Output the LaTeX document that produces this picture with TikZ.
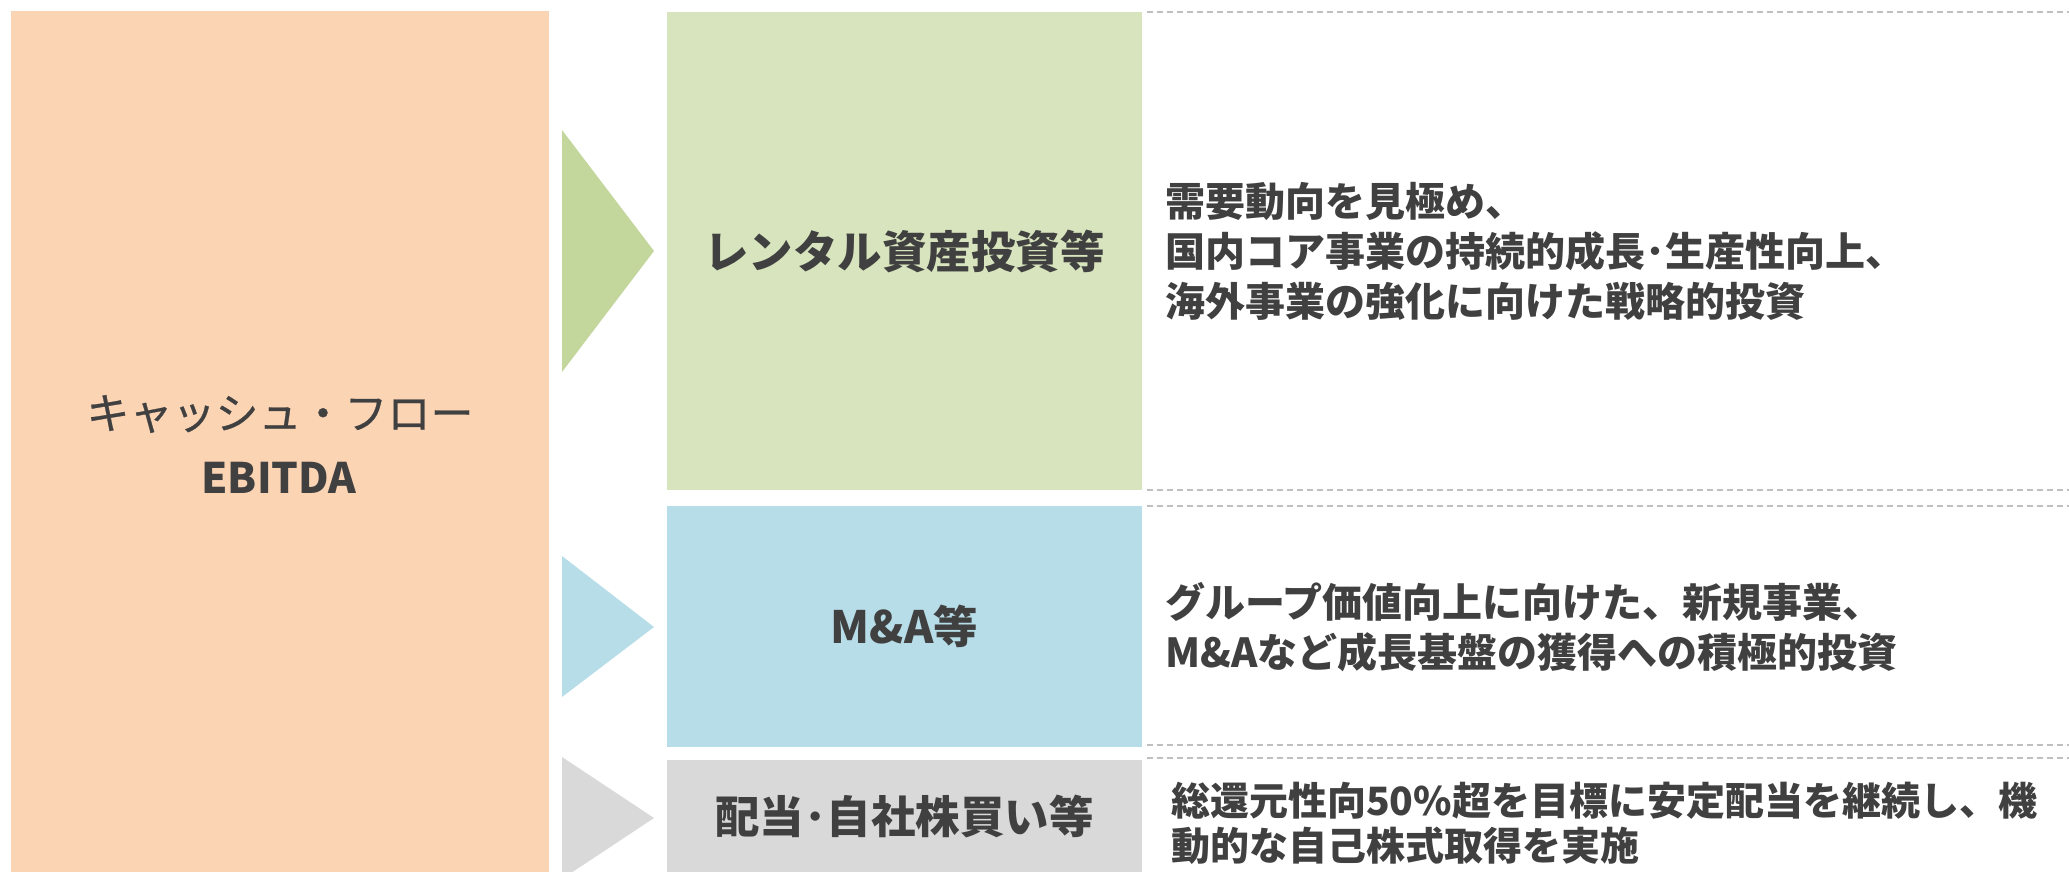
\documentclass[tikz,border=0pt]{standalone}
\usepackage{fontspec}
\setmainfont{Noto Sans CJK JP}
\newfontfamily\jpfont{Noto Sans CJK JP}
\newfontfamily\jpmed[FakeBold=0.6]{Noto Sans CJK JP}
\definecolor{peach}{HTML}{FBD4B4}
\definecolor{greenbox}{HTML}{D7E4BD}
\definecolor{greenarrow}{HTML}{C3D69B}
\definecolor{bluebox}{HTML}{B7DDE8}
\definecolor{graybox}{HTML}{D9D9D9}
\definecolor{txt}{HTML}{404040}
\definecolor{dashgray}{HTML}{BFBFBF}
\begin{document}
\begin{tikzpicture}[x=1pt,y=-1pt,
  panel/.style={inner sep=0pt, outer sep=0pt, draw=none},
  lbl/.style={inner sep=0pt, text=txt, align=center, font=\jpfont\bfseries\fontsize{44.5}{52}\selectfont},
  desc/.style={inner sep=0pt, anchor=west, text=txt, align=left, font=\jpfont\bfseries\fontsize{40}{50}\selectfont},
  sep/.style={draw=dashgray, line width=2pt, dash pattern=on 6pt off 4pt}]
\useasboundingbox (0,0) rectangle (2069,872);
% source box
\node[panel, fill=peach, minimum width=538pt, minimum height=861pt] (src) at (280,441.5) {};
\node[inner sep=0pt, text=txt, font=\jpmed\fontsize{43}{52}\selectfont] (srcA) at (280,414) {キャッシュ・フロー};
\node[inner sep=0pt, text=txt, font=\jpfont\bfseries\fontsize{42}{50}\selectfont] (srcB) at (279,478) {EBITDA};
% category boxes
\node[panel, fill=greenbox, minimum width=475pt, minimum height=478pt] (g) at (904.5,251) {};
\node[panel, fill=bluebox, minimum width=475pt, minimum height=241pt] (b) at (904.5,626.5) {};
\node[panel, fill=graybox, minimum width=475pt, minimum height=112pt] (k) at (904.5,816) {};
\node[lbl] (gl) at (g.center) {レンタル資産投資等};
\node[lbl] (bl) at (b.center) {M\&A等};
\node[lbl] (kl) at (k.center) {配当･自社株買い等};
% triangles
\fill[greenarrow] (562,130) -- (654,251) -- (562,372) -- cycle;
\fill[bluebox] (562,556) -- (654,627) -- (562,697) -- cycle;
\fill[graybox] (562,757) -- (654,818) -- (562,879) -- cycle;
% dashed separators
\coordinate (d1a) at (1147,12);  \coordinate (d1b) at (2069,12);
\coordinate (d2a) at (1147,490); \coordinate (d2b) at (2069,490);
\coordinate (d3a) at (1147,506); \coordinate (d3b) at (2069,506);
\coordinate (d4a) at (1147,745); \coordinate (d4b) at (2069,745);
\coordinate (d5a) at (1147,758); \coordinate (d5b) at (2069,758);
\draw[sep] (d1a) -- (d1b);
\draw[sep] (d2a) -- (d2b);
\draw[sep] (d3a) -- (d3b);
\draw[sep] (d4a) -- (d4b);
\draw[sep] (d5a) -- (d5b);
% descriptions
\node[desc] (gd) at (1165,251) {需要動向を見極め、\\国内コア事業の持続的成長･生産性向上、\\海外事業の強化に向けた戦略的投資};
\node[desc] (bd) at (1165,627) {グループ価値向上に向けた、新規事業、\\M\&Aなど成長基盤の獲得への積極的投資};
\node[desc, font=\jpfont\bfseries\fontsize{39}{45}\selectfont] (kd) at (1171,823) {総還元性向50\%超を目標に安定配当を継続し、機\\動的な自己株式取得を実施};
\end{tikzpicture}
\end{document}
